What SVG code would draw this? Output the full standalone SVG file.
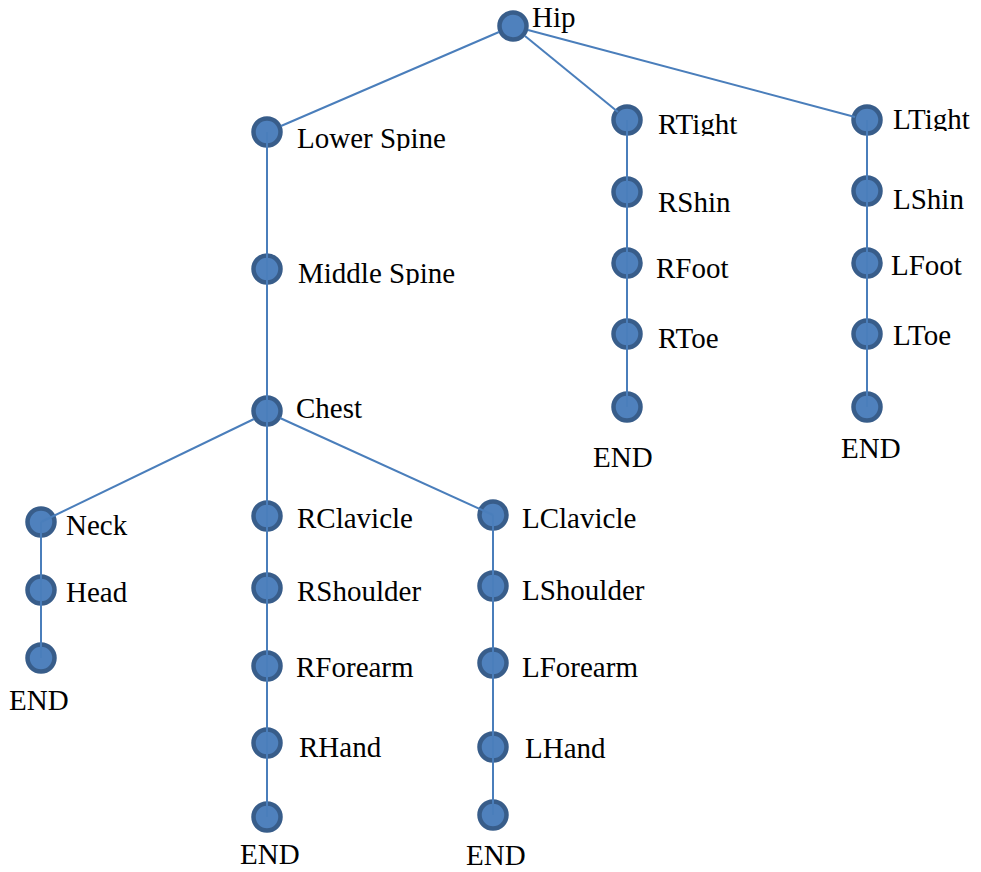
<svg xmlns="http://www.w3.org/2000/svg" width="981" height="872" viewBox="0 0 981 872">
<style>
.n{fill:#4f81bd;stroke:#385d8a;stroke-width:4.5}
.c{stroke:#4a7ebb;stroke-width:2;fill:none}
text{font-family:"Liberation Serif","Times New Roman",serif;font-size:29px;fill:#000}
</style>
<defs>
<clipPath id="cLS"><rect x="290" y="110" width="180" height="41"/></clipPath>
<clipPath id="cMS"><rect x="290" y="245" width="180" height="40"/></clipPath>
<clipPath id="cRT"><rect x="650" y="100" width="120" height="36"/></clipPath>
<clipPath id="cLT"><rect x="885" y="100" width="96" height="31"/></clipPath>
</defs>
<rect width="981" height="872" fill="#fff"/>
<g id="nodes">
<g id="hip"><circle class="n" cx="513" cy="26" r="13.5"/><text x="532" y="27">Hip</text></g>
<g id="lowerspine"><circle class="n" cx="267" cy="132" r="13.5"/><text x="297" y="148" clip-path="url(#cLS)">Lower Spine</text></g>
<g id="middlespine"><circle class="n" cx="267" cy="269" r="13.5"/><text x="298" y="283" clip-path="url(#cMS)">Middle Spine</text></g>
<g id="chest"><circle class="n" cx="267" cy="411" r="13.5"/><text x="296" y="418">Chest</text></g>
<g id="neck"><circle class="n" cx="41" cy="522" r="13.5"/><text x="66" y="535">Neck</text></g>
<g id="head"><circle class="n" cx="41" cy="590" r="13.5"/><text x="66" y="602">Head</text></g>
<g id="headend"><circle class="n" cx="41" cy="658" r="13.5"/><text x="9" y="710">END</text></g>
<g id="rclavicle"><circle class="n" cx="267" cy="516" r="13.5"/><text x="297" y="528">RClavicle</text></g>
<g id="rshoulder"><circle class="n" cx="267" cy="588" r="13.5"/><text x="297" y="601">RShoulder</text></g>
<g id="rforearm"><circle class="n" cx="267" cy="666" r="13.5"/><text x="296" y="677">RForearm</text></g>
<g id="rhand"><circle class="n" cx="267" cy="743" r="13.5"/><text x="299" y="757">RHand</text></g>
<g id="rhandend"><circle class="n" cx="267" cy="817" r="13.5"/><text x="240" y="864">END</text></g>
<g id="lclavicle"><circle class="n" cx="493" cy="515" r="13.5"/><text x="522" y="528">LClavicle</text></g>
<g id="lshoulder"><circle class="n" cx="493" cy="586" r="13.5"/><text x="522" y="600">LShoulder</text></g>
<g id="lforearm"><circle class="n" cx="493" cy="663" r="13.5"/><text x="522" y="677">LForearm</text></g>
<g id="lhand"><circle class="n" cx="493" cy="747" r="13.5"/><text x="525" y="758">LHand</text></g>
<g id="lhandend"><circle class="n" cx="493" cy="815" r="13.5"/><text x="466" y="865">END</text></g>
<g id="rtight"><circle class="n" cx="627" cy="120" r="13.5"/><text x="658" y="134" clip-path="url(#cRT)">RTight</text></g>
<g id="rshin"><circle class="n" cx="627" cy="192" r="13.5"/><text x="658" y="212">RShin</text></g>
<g id="rfoot"><circle class="n" cx="627" cy="263" r="13.5"/><text x="656" y="278">RFoot</text></g>
<g id="rtoe"><circle class="n" cx="627" cy="334" r="13.5"/><text x="658" y="348">RToe</text></g>
<g id="rtoeend"><circle class="n" cx="627" cy="407" r="13.5"/><text x="593" y="467">END</text></g>
<g id="ltight"><circle class="n" cx="867" cy="120" r="13.5"/><text x="893" y="129" clip-path="url(#cLT)">LTight</text></g>
<g id="lshin"><circle class="n" cx="867" cy="191" r="13.5"/><text x="893" y="209">LShin</text></g>
<g id="lfoot"><circle class="n" cx="867" cy="263" r="13.5"/><text x="891" y="275">LFoot</text></g>
<g id="ltoe"><circle class="n" cx="867" cy="334" r="13.5"/><text x="893" y="345">LToe</text></g>
<g id="ltoeend"><circle class="n" cx="867" cy="407" r="13.5"/><text x="841" y="458">END</text></g>
</g>
<g id="connectors">
<line class="c" x1="499" y1="32" x2="281" y2="126"/>
<line class="c" x1="525" y1="36" x2="618" y2="112"/>
<line class="c" x1="528" y1="30" x2="855" y2="117"/>
<line class="c" x1="267" y1="132" x2="267" y2="817"/>
<line class="c" x1="254" y1="419" x2="41" y2="522"/>
<line class="c" x1="280" y1="418" x2="493" y2="515"/>
<line class="c" x1="41" y1="522" x2="41" y2="658"/>
<line class="c" x1="493" y1="515" x2="493" y2="815"/>
<line class="c" x1="627" y1="120" x2="627" y2="407"/>
<line class="c" x1="867" y1="120" x2="867" y2="407"/>
</g>
</svg>
